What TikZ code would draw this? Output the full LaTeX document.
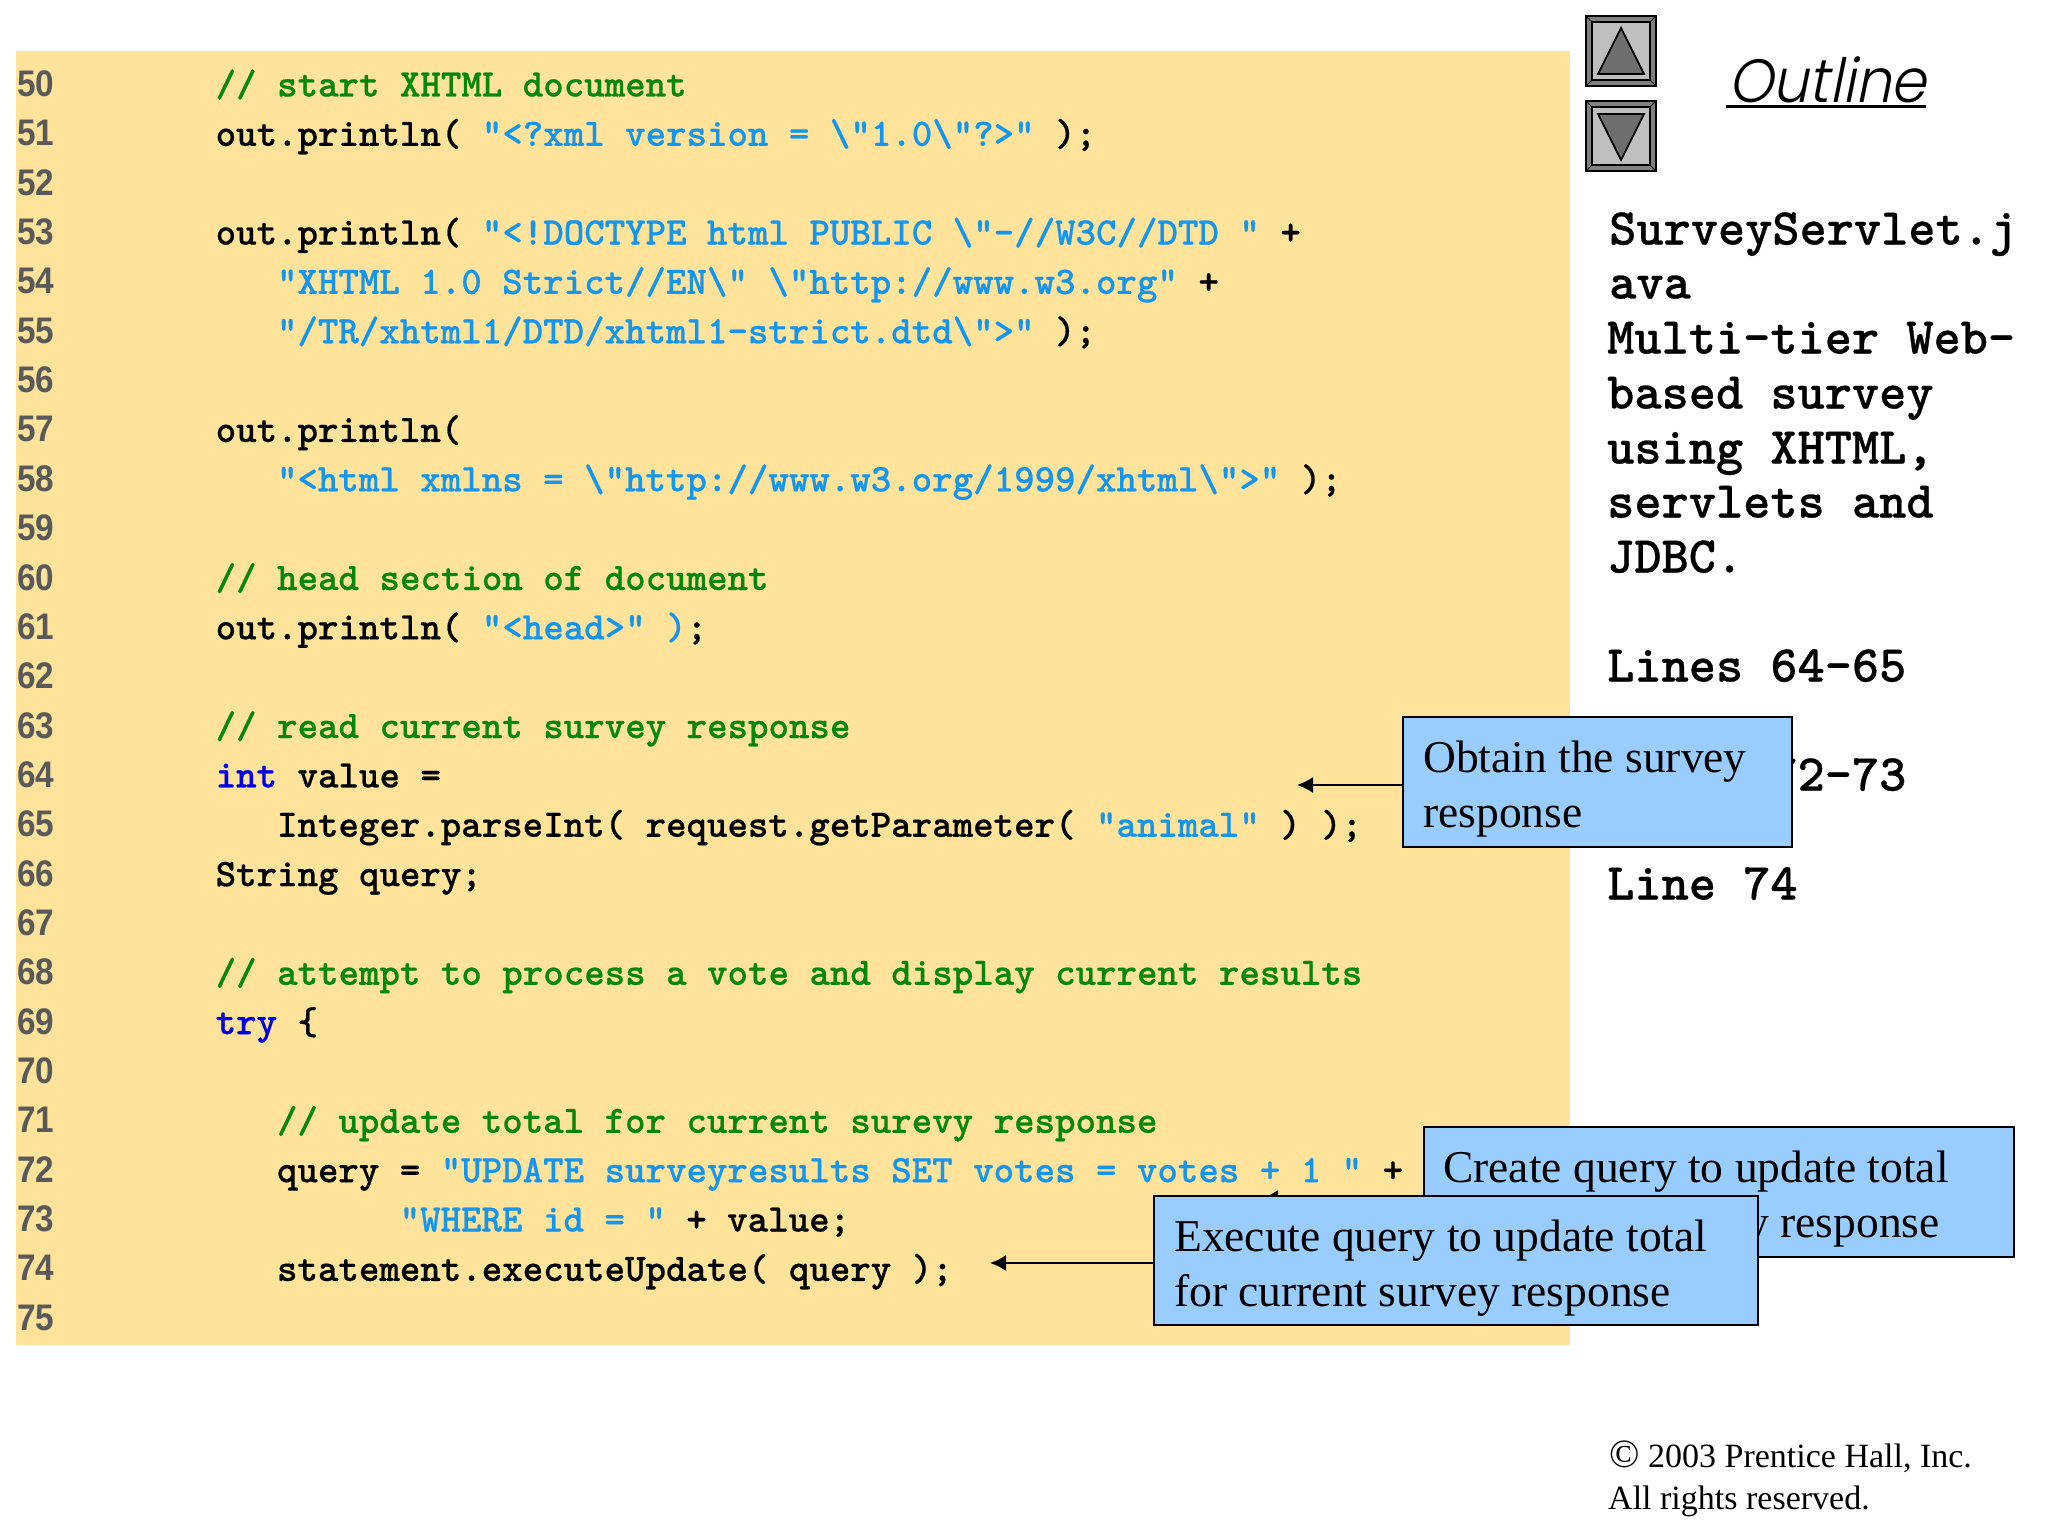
\documentclass[tikz,border=0pt]{standalone}
\usepackage{fontspec}
\usetikzlibrary{arrows.meta,calc}
\setmainfont{Liberation Serif}
\newfontfamily\numfont[FakeStretch=0.9]{Liberation Sans}
\newfontfamily\outlfont[ItalicFont=*,ItalicFeatures={FakeSlant=0.2,FakeStretch=0.93}]{Poppins Light}
\newfontfamily\codefam[Extension=.otf,FakeBold=0.5]{lmmonolt10-bold}
\definecolor{pagey}{HTML}{FFE39B}
\definecolor{calloutb}{HTML}{99CCFF}
\definecolor{strb}{HTML}{1496EE}
\definecolor{cmtg}{HTML}{058805}
\definecolor{kwb}{HTML}{0000E6}
\definecolor{numg}{HTML}{595959}
\definecolor{btnf}{HTML}{BEBEBE}
\definecolor{btnd}{HTML}{808080}
\definecolor{trif}{HTML}{6E6E6E}
\newcommand\St[1]{\textcolor{strb}{#1}}
\newcommand\Cm[1]{\textcolor{cmtg}{#1}}
\newcommand\Kw[1]{\textcolor{kwb}{#1}}
\newcommand\bsl{\textbackslash}
\newcommand\cl[3]{\node[codetext] (c#1) at ({215.5+#2*20.44},{96.5+49.35*(#1-50)}) {#3};}
\tikzset{
  codetext/.style={anchor=base west,inner sep=0pt,font=\fontsize{39}{39}\selectfont\codefam,text=black},
  numtext/.style={anchor=base west,inner sep=0pt,font=\fontsize{37}{37}\selectfont\numfont\bfseries,text=numg},
  sidetext/.style={anchor=base west,inner sep=0pt,font=\fontsize{51.8}{51.8}\selectfont\codefam,text=black},
  callout/.style={draw=black,line width=2.4pt,fill=calloutb,inner sep=0pt,anchor=north west},
  calltext/.style={anchor=north west,inner sep=0pt,align=left,text=black,font=\fontsize{45.5}{55}\selectfont},
  copyr/.style={anchor=base west,inner sep=0pt,font=\fontsize{34}{34}\selectfont,text=black},
  leader/.style={draw=black,line width=2pt,-{Latex[length=16pt,width=16pt]}},
}
\begin{document}
\begin{tikzpicture}[x=1pt,y=-1pt]
\useasboundingbox (0,0) rectangle (2048,1536);
\fill[pagey] (16,51) rectangle (1570,1345);
\foreach \n in {50,...,75}{\node[numtext] (n\n) at (17,{96.5+49.35*(\n-50)}) {\n};}
\cl{50}{0}{\Cm{// start XHTML document}}
\cl{51}{0}{out.println( \St{"<?xml version = \bsl"1.0\bsl"?>"} );}
\cl{53}{0}{out.println( \St{"<!DOCTYPE html PUBLIC \bsl"-//W3C//DTD "} +}
\cl{54}{3}{\St{"XHTML 1.0 Strict//EN\bsl" \bsl"http://www.w3.org"} +}
\cl{55}{3}{\St{"/TR/xhtml1/DTD/xhtml1-strict.dtd\bsl">"} );}
\cl{57}{0}{out.println(}
\cl{58}{3}{\St{"<html xmlns = \bsl"http://www.w3.org/1999/xhtml\bsl">"} );}
\cl{60}{0}{\Cm{// head section of document}}
\cl{61}{0}{out.println( \St{"<head>" )};}
\cl{63}{0}{\Cm{// read current survey response}}
\cl{64}{0}{\Kw{int} value =}
\cl{65}{3}{Integer.parseInt( request.getParameter( \St{"animal"} ) );}
\cl{66}{0}{String query;}
\cl{68}{0}{\Cm{// attempt to process a vote and display current results}}
\cl{69}{0}{\Kw{try} \{}
\cl{71}{3}{\Cm{// update total for current surevy response}}
\cl{72}{3}{query = \St{"UPDATE surveyresults SET votes = votes + 1 "} +}
\cl{73}{9}{\St{"WHERE id = "} + value;}
\cl{74}{3}{statement.executeUpdate( query );}
% navigation buttons
\foreach \top/\nm in {16/u,101/d}{
  \fill[btnd,draw=black,line width=2pt] (1586,\top) rectangle (1656,\top+70);
  \fill[btnf,draw=black,line width=2pt] (1592,\top+6) rectangle (1650,\top+64);
  \draw[black,line width=1pt] (1586,\top) -- (1592,\top+6) (1656,\top) -- (1650,\top+6)
     (1586,\top+70) -- (1592,\top+64) (1656,\top+70) -- (1650,\top+64);
}
\draw[fill=trif,line width=1.8pt,line join=miter] (1621,28) -- (1644,74) -- (1598,74) -- cycle;
\draw[fill=trif,line width=1.8pt,line join=miter] (1621,160) -- (1644,114) -- (1598,114) -- cycle;
\node[anchor=base west,inner sep=0pt,font=\fontsize{61}{61}\selectfont\outlfont\itshape] (outl) at (1728,103) {Outline};
\draw[line width=3pt] ($(outl.base west)+(-2,4)$) -- ($(outl.base east)+(0,4)$);
% side text
\node[sidetext] (s1) at (1609,244.5) {SurveyServlet.j};
\node[sidetext] (s2) at (1609,298.5) {ava};
\node[sidetext] (s3) at (1607,353.5) {Multi-tier Web-};
\node[sidetext] (s4) at (1607,408.5) {based survey};
\node[sidetext] (s5) at (1607,463.5) {using XHTML,};
\node[sidetext] (s6) at (1607,517.5) {servlets and};
\node[sidetext] (s7) at (1607,572.5) {JDBC.};
\node[sidetext] (s8) at (1607,681.5) {Lines 64-65};
\node[sidetext] (s9) at (1607,790.5) {Lines 72-73};
\node[sidetext] (s10) at (1607,899.5) {Line 74};
% copyright
\node[copyr] (cp1) at (1609,1467) {{\fontsize{40}{40}\selectfont ©} 2003 Prentice Hall, Inc.};
\node[copyr] (cp2) at (1608,1509) {All rights reserved.};
% callouts
\coordinate (t1) at (1297,785);
\coordinate (t2) at (1262,1198);
\coordinate (t3) at (990,1263);
\node[callout,minimum width=389pt,minimum height=130pt] (b1) at (1402,716) {};
\node[calltext] (b1t) at (1423,741) {Obtain the survey\\response};
\draw[leader] (b1.west |- t1) -- (t1);
\node[callout,minimum width=590pt,minimum height=130pt] (b2) at (1423,1126) {};
\node[calltext] (b2t) at (1443,1151) {Create query to update total\\for current survey response};
\draw[leader] (b2.west |- t2) -- (t2);
\node[callout,minimum width=604pt,minimum height=129pt] (b3) at (1153,1195) {};
\node[calltext] (b3t) at (1174,1220) {Execute query to update total\\for current survey response};
\draw[leader] (b3.west |- t3) -- (t3);
\end{tikzpicture}
\end{document}
